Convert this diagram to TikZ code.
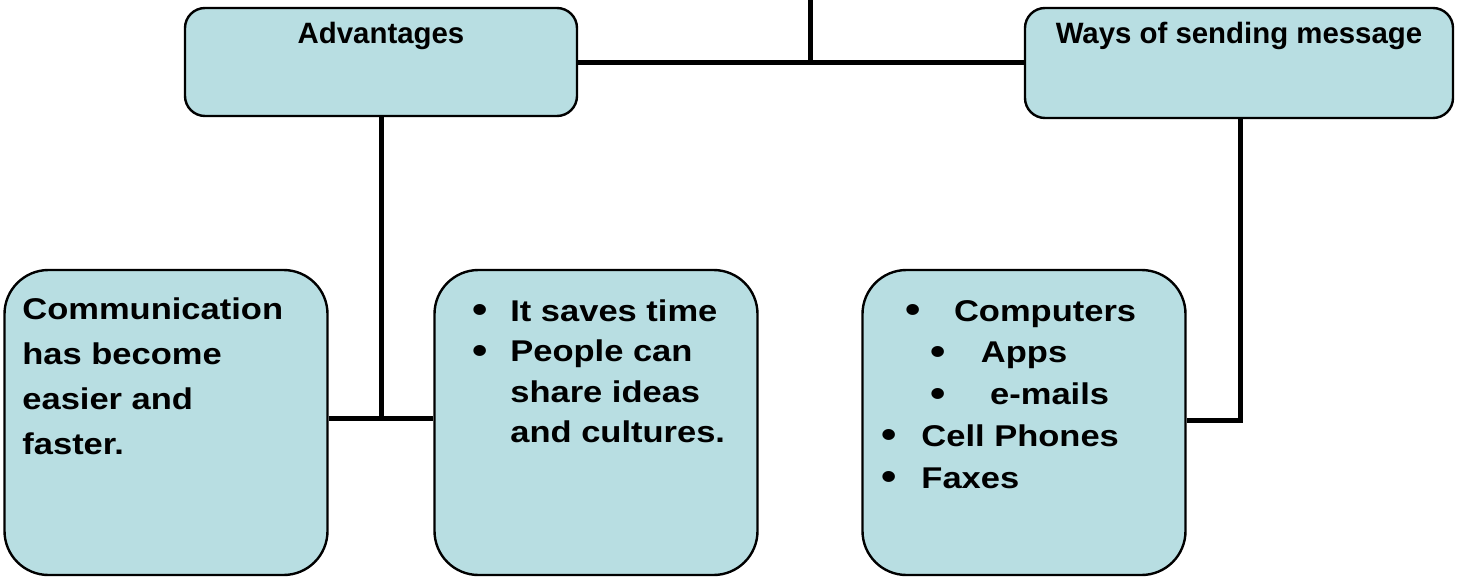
\documentclass[tikz,border=0pt]{standalone}
\usepackage{fontspec}
\setmainfont{Liberation Sans}
\usetikzlibrary{positioning}

\definecolor{boxfill}{RGB}{184,222,226}
\newcommand\itm[2]{\hspace*{#1}\makebox[#2][l]{\raisebox{-0.7pt}{\fontsize{19}{19}\selectfont\textbullet}}}

\begin{document}
\begin{tikzpicture}[x=0.5pt, y=-0.5pt,
    box/.style={draw, line width=1.2pt, fill=boxfill, rounded corners=10pt},
    bigbox/.style={box, rounded corners=22pt, minimum width=161.5pt, minimum height=152.5pt},
    title/.style={inner sep=0pt, font=\bfseries\fontsize{14.7}{17}\selectfont},
    body/.style={inner sep=0pt, anchor=base west, font=\bfseries\fontsize{15}{#1}\selectfont},
    link/.style={line width=2.5pt}]
    \useasboundingbox [fill=white] (0,0) rectangle (1462,584);

    % top row
    \node [box, minimum width=196pt, minimum height=54pt] (adv) at (381,62) {};
    \node [box, minimum width=214pt, minimum height=55pt] (ways) at (1239,63) {};
    \node [title, below=7.5pt of adv.north] (advt) {Advantages};
    \node [title, below=7.5pt of ways.north] (wayst) {Ways of sending message};

    % bottom row
    \node [bigbox] (comm) at (166,422.5) {};
    \node [bigbox] (saves) at (596,422.5) {};
    \node [bigbox] (comp) at (1024,422.5) {};

    \node [body=22.6pt] (commt) at (22,319) {\scalebox{1.15}[1]{\begin{tabular}[t]{@{}l@{}}
        Communication\\has become\\easier and\\faster.\end{tabular}}};
    \node [body=20.2pt] (savest) at (472,321.5) {\scalebox{1.15}[1]{\begin{tabular}[t]{@{}l@{}}
        \itm{0pt}{16.5pt}It saves time\\
        \itm{0pt}{16.5pt}People can\\
        \hspace*{16.5pt}share ideas\\
        \hspace*{16.5pt}and cultures.\end{tabular}}};
    \node [body=20.9pt] (compt) at (881,321) {\scalebox{1.15}[1]{\begin{tabular}[t]{@{}l@{}}
        \itm{10.3pt}{21.3pt}Computers\\
        \itm{21.4pt}{21.9pt}Apps\\
        \itm{21.4pt}{25.9pt}e-mails\\
        \itm{0pt}{17.4pt}Cell Phones\\
        \itm{0pt}{17.4pt}Faxes\end{tabular}}};

    % connectors
    \coordinate (top) at (810,0);
    \coordinate (advj) at (381,418);
    \coordinate (waysj) at (1240,420);
    \draw [link] (top) -- (top |- adv.east);
    \draw [link] (adv.east) -- (adv.east -| ways.west);
    \draw [link] (adv.south) -- (advj);
    \draw [link] (comm.east |- advj) -- (saves.west |- advj);
    \draw [link] (ways.south -| waysj) -- (waysj) -- (comp.east |- waysj);
\end{tikzpicture}
\end{document}
